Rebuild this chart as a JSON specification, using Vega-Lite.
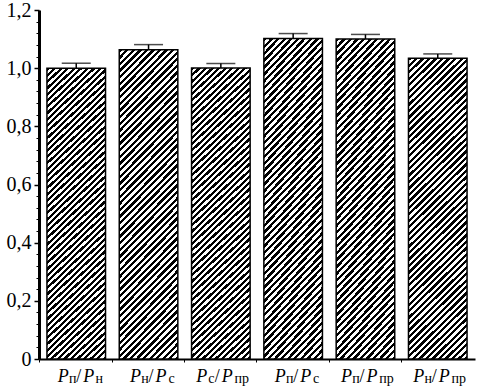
{
  "$schema": "https://vega.github.io/schema/vega-lite/v6.json",
  "width": 436,
  "height": 349,
  "autosize": "none",
  "padding": {"left": 39, "top": 10, "right": 10, "bottom": 33},
  "background": "white",
  "config": {"view": {"stroke": null}, "font": "Liberation Serif"},
  "data": {"values": [
    {"label": "Pп/Pн", "s1": "п", "s2": "н", "value": 1.0, "upper": 1.017},
    {"label": "Pн/Pс", "s1": "н", "s2": "с", "value": 1.063, "upper": 1.081},
    {"label": "Pс/Pпр", "s1": "с", "s2": "пр", "value": 1.001, "upper": 1.016},
    {"label": "Pп/Pс", "s1": "п", "s2": "с", "value": 1.102, "upper": 1.119},
    {"label": "Pп/Pпр", "s1": "п", "s2": "пр", "value": 1.1, "upper": 1.116},
    {"label": "Pн/Pпр", "s1": "н", "s2": "пр", "value": 1.034, "upper": 1.049}
  ]},
  "encoding": {
    "x": {
      "field": "label", "type": "nominal", "sort": null,
      "scale": {"paddingInner": 0.19, "paddingOuter": 0.11},
      "axis": {"labels": false, "title": null, "domainWidth": 2, "domainColor": "black", "ticks": true, "tickSize": 3, "tickColor": "black", "bandPosition": -0.12}
    }
  },
  "resolve": {"axis": {"y": "independent"}},
  "layer": [
    {
      "mark": {
        "type": "bar", "stroke": "black", "strokeWidth": 1.5,
        "fill": {"gradient": "linear", "x1": 0, "y1": 0, "x2": 0.221, "y2": 1.15, "stops": [
          {"offset":0,"color":"#000"},{"offset":0.009,"color":"#000"},{"offset":0.009,"color":"#fff"},{"offset":0.018,"color":"#fff"},
          {"offset":0.018,"color":"#000"},{"offset":0.027,"color":"#000"},{"offset":0.027,"color":"#fff"},{"offset":0.036,"color":"#fff"},
          {"offset":0.036,"color":"#000"},{"offset":0.045,"color":"#000"},{"offset":0.045,"color":"#fff"},{"offset":0.054,"color":"#fff"},
          {"offset":0.054,"color":"#000"},{"offset":0.063,"color":"#000"},{"offset":0.063,"color":"#fff"},{"offset":0.072,"color":"#fff"},
          {"offset":0.072,"color":"#000"},{"offset":0.081,"color":"#000"},{"offset":0.081,"color":"#fff"},{"offset":0.09,"color":"#fff"},
          {"offset":0.09,"color":"#000"},{"offset":0.099,"color":"#000"},{"offset":0.099,"color":"#fff"},{"offset":0.108,"color":"#fff"},
          {"offset":0.108,"color":"#000"},{"offset":0.117,"color":"#000"},{"offset":0.117,"color":"#fff"},{"offset":0.126,"color":"#fff"},
          {"offset":0.126,"color":"#000"},{"offset":0.135,"color":"#000"},{"offset":0.135,"color":"#fff"},{"offset":0.144,"color":"#fff"},
          {"offset":0.144,"color":"#000"},{"offset":0.153,"color":"#000"},{"offset":0.153,"color":"#fff"},{"offset":0.162,"color":"#fff"},
          {"offset":0.162,"color":"#000"},{"offset":0.171,"color":"#000"},{"offset":0.171,"color":"#fff"},{"offset":0.18,"color":"#fff"},
          {"offset":0.18,"color":"#000"},{"offset":0.189,"color":"#000"},{"offset":0.189,"color":"#fff"},{"offset":0.198,"color":"#fff"},
          {"offset":0.198,"color":"#000"},{"offset":0.207,"color":"#000"},{"offset":0.207,"color":"#fff"},{"offset":0.216,"color":"#fff"},
          {"offset":0.216,"color":"#000"},{"offset":0.225,"color":"#000"},{"offset":0.225,"color":"#fff"},{"offset":0.234,"color":"#fff"},
          {"offset":0.234,"color":"#000"},{"offset":0.243,"color":"#000"},{"offset":0.243,"color":"#fff"},{"offset":0.252,"color":"#fff"},
          {"offset":0.252,"color":"#000"},{"offset":0.261,"color":"#000"},{"offset":0.261,"color":"#fff"},{"offset":0.27,"color":"#fff"},
          {"offset":0.27,"color":"#000"},{"offset":0.279,"color":"#000"},{"offset":0.279,"color":"#fff"},{"offset":0.288,"color":"#fff"},
          {"offset":0.288,"color":"#000"},{"offset":0.297,"color":"#000"},{"offset":0.297,"color":"#fff"},{"offset":0.306,"color":"#fff"},
          {"offset":0.306,"color":"#000"},{"offset":0.315,"color":"#000"},{"offset":0.315,"color":"#fff"},{"offset":0.324,"color":"#fff"},
          {"offset":0.324,"color":"#000"},{"offset":0.333,"color":"#000"},{"offset":0.333,"color":"#fff"},{"offset":0.342,"color":"#fff"},
          {"offset":0.342,"color":"#000"},{"offset":0.351,"color":"#000"},{"offset":0.351,"color":"#fff"},{"offset":0.36,"color":"#fff"},
          {"offset":0.36,"color":"#000"},{"offset":0.369,"color":"#000"},{"offset":0.369,"color":"#fff"},{"offset":0.378,"color":"#fff"},
          {"offset":0.378,"color":"#000"},{"offset":0.387,"color":"#000"},{"offset":0.387,"color":"#fff"},{"offset":0.396,"color":"#fff"},
          {"offset":0.396,"color":"#000"},{"offset":0.405,"color":"#000"},{"offset":0.405,"color":"#fff"},{"offset":0.414,"color":"#fff"},
          {"offset":0.414,"color":"#000"},{"offset":0.423,"color":"#000"},{"offset":0.423,"color":"#fff"},{"offset":0.432,"color":"#fff"},
          {"offset":0.432,"color":"#000"},{"offset":0.441,"color":"#000"},{"offset":0.441,"color":"#fff"},{"offset":0.45,"color":"#fff"},
          {"offset":0.45,"color":"#000"},{"offset":0.459,"color":"#000"},{"offset":0.459,"color":"#fff"},{"offset":0.468,"color":"#fff"},
          {"offset":0.468,"color":"#000"},{"offset":0.477,"color":"#000"},{"offset":0.477,"color":"#fff"},{"offset":0.486,"color":"#fff"},
          {"offset":0.486,"color":"#000"},{"offset":0.495,"color":"#000"},{"offset":0.495,"color":"#fff"},{"offset":0.504,"color":"#fff"},
          {"offset":0.504,"color":"#000"},{"offset":0.513,"color":"#000"},{"offset":0.513,"color":"#fff"},{"offset":0.522,"color":"#fff"},
          {"offset":0.522,"color":"#000"},{"offset":0.531,"color":"#000"},{"offset":0.531,"color":"#fff"},{"offset":0.54,"color":"#fff"},
          {"offset":0.54,"color":"#000"},{"offset":0.549,"color":"#000"},{"offset":0.549,"color":"#fff"},{"offset":0.558,"color":"#fff"},
          {"offset":0.558,"color":"#000"},{"offset":0.567,"color":"#000"},{"offset":0.567,"color":"#fff"},{"offset":0.576,"color":"#fff"},
          {"offset":0.576,"color":"#000"},{"offset":0.585,"color":"#000"},{"offset":0.585,"color":"#fff"},{"offset":0.594,"color":"#fff"},
          {"offset":0.594,"color":"#000"},{"offset":0.603,"color":"#000"},{"offset":0.603,"color":"#fff"},{"offset":0.612,"color":"#fff"},
          {"offset":0.612,"color":"#000"},{"offset":0.621,"color":"#000"},{"offset":0.621,"color":"#fff"},{"offset":0.63,"color":"#fff"},
          {"offset":0.63,"color":"#000"},{"offset":0.639,"color":"#000"},{"offset":0.639,"color":"#fff"},{"offset":0.648,"color":"#fff"},
          {"offset":0.648,"color":"#000"},{"offset":0.657,"color":"#000"},{"offset":0.657,"color":"#fff"},{"offset":0.666,"color":"#fff"},
          {"offset":0.666,"color":"#000"},{"offset":0.675,"color":"#000"},{"offset":0.675,"color":"#fff"},{"offset":0.684,"color":"#fff"},
          {"offset":0.684,"color":"#000"},{"offset":0.693,"color":"#000"},{"offset":0.693,"color":"#fff"},{"offset":0.702,"color":"#fff"},
          {"offset":0.702,"color":"#000"},{"offset":0.711,"color":"#000"},{"offset":0.711,"color":"#fff"},{"offset":0.72,"color":"#fff"},
          {"offset":0.72,"color":"#000"},{"offset":0.729,"color":"#000"},{"offset":0.729,"color":"#fff"},{"offset":0.738,"color":"#fff"},
          {"offset":0.738,"color":"#000"},{"offset":0.747,"color":"#000"},{"offset":0.747,"color":"#fff"},{"offset":0.756,"color":"#fff"},
          {"offset":0.756,"color":"#000"},{"offset":0.765,"color":"#000"},{"offset":0.765,"color":"#fff"},{"offset":0.774,"color":"#fff"},
          {"offset":0.774,"color":"#000"},{"offset":0.783,"color":"#000"},{"offset":0.783,"color":"#fff"},{"offset":0.792,"color":"#fff"},
          {"offset":0.792,"color":"#000"},{"offset":0.801,"color":"#000"},{"offset":0.801,"color":"#fff"},{"offset":0.81,"color":"#fff"},
          {"offset":0.81,"color":"#000"},{"offset":0.819,"color":"#000"},{"offset":0.819,"color":"#fff"},{"offset":0.828,"color":"#fff"},
          {"offset":0.828,"color":"#000"},{"offset":0.837,"color":"#000"},{"offset":0.837,"color":"#fff"},{"offset":0.846,"color":"#fff"},
          {"offset":0.846,"color":"#000"},{"offset":0.855,"color":"#000"},{"offset":0.855,"color":"#fff"},{"offset":0.864,"color":"#fff"},
          {"offset":0.864,"color":"#000"},{"offset":0.873,"color":"#000"},{"offset":0.873,"color":"#fff"},{"offset":0.882,"color":"#fff"},
          {"offset":0.882,"color":"#000"},{"offset":0.891,"color":"#000"},{"offset":0.891,"color":"#fff"},{"offset":0.9,"color":"#fff"},
          {"offset":0.9,"color":"#000"},{"offset":0.909,"color":"#000"},{"offset":0.909,"color":"#fff"},{"offset":0.918,"color":"#fff"},
          {"offset":0.918,"color":"#000"},{"offset":0.927,"color":"#000"},{"offset":0.927,"color":"#fff"},{"offset":0.936,"color":"#fff"},
          {"offset":0.936,"color":"#000"},{"offset":0.945,"color":"#000"},{"offset":0.945,"color":"#fff"},{"offset":0.954,"color":"#fff"},
          {"offset":0.954,"color":"#000"},{"offset":0.963,"color":"#000"},{"offset":0.963,"color":"#fff"},{"offset":0.972,"color":"#fff"},
          {"offset":0.972,"color":"#000"},{"offset":0.981,"color":"#000"},{"offset":0.981,"color":"#fff"},{"offset":0.99,"color":"#fff"},
          {"offset":0.99,"color":"#000"},{"offset":0.999,"color":"#000"},{"offset":0.999,"color":"#fff"},{"offset":1,"color":"#fff"}
        ]}
      },
      "encoding": {
        "y": {
          "field": "value", "type": "quantitative",
          "scale": {"domain": [0, 1.2], "nice": false},
          "axis": {
            "orient": "left", "values": [0, 0.2, 0.4, 0.6, 0.8, 1, 1.2], "grid": false, "title": null,
            "domainWidth": 3, "domainColor": "black", "tickColor": "black", "tickWidth": 1.5, "tickSize": 5,
            "labelFont": "Liberation Serif", "labelFontSize": 20, "labelColor": "black", "labelPadding": 3,
            "labelExpr": "datum.value == 0 ? '0' : replace(format(datum.value, '.1f'), '.', ',')"
          }
        }
      }
    },
    {
      "mark": {"type": "rule", "color": "black", "strokeWidth": 1.5},
      "encoding": {
        "y": {
          "field": "value", "type": "quantitative",
          "axis": {
            "orient": "left", "values": [0.04,0.08,0.12,0.16,0.24,0.28,0.32,0.36,0.44,0.48,0.52,0.56,0.64,0.68,0.72,0.76,0.84,0.88,0.92,0.96,1.04,1.08,1.12,1.16],
            "labels": false, "domain": false, "grid": false, "title": null, "tickSize": 3, "tickWidth": 1, "tickColor": "black"
          }
        },
        "y2": {"field": "upper"}
      }
    },
    {
      "mark": {"type": "tick", "color": "black", "thickness": 1.5, "size": 29},
      "encoding": {"y": {"field": "upper", "type": "quantitative", "axis": null}}
    },
    {
      "transform": [{"filter": "datum.s2 != 'пр'"}],
      "layer": [
        {"mark": {"type": "text", "text": "P", "font": "Liberation Serif", "fontStyle": "italic", "fontSize": 18, "align": "center", "baseline": "alphabetic", "dx": -13, "dy": 23, "color": "black"},
         "encoding": {"y": {"datum": 0, "type": "quantitative", "axis": null}}},
        {"mark": {"type": "text", "font": "Liberation Serif", "fontSize": 14, "align": "center", "baseline": "alphabetic", "dx": -3.5, "dy": 24, "color": "black"},
         "encoding": {"y": {"datum": 0, "type": "quantitative", "axis": null}, "text": {"field": "s1"}}},
        {"mark": {"type": "text", "text": "/", "font": "Liberation Serif", "fontSize": 18, "align": "center", "baseline": "alphabetic", "dx": 2.5, "dy": 23, "color": "black"},
         "encoding": {"y": {"datum": 0, "type": "quantitative", "axis": null}}},
        {"mark": {"type": "text", "text": "P", "font": "Liberation Serif", "fontStyle": "italic", "fontSize": 18, "align": "center", "baseline": "alphabetic", "dx": 12.5, "dy": 23, "color": "black"},
         "encoding": {"y": {"datum": 0, "type": "quantitative", "axis": null}}},
        {"mark": {"type": "text", "font": "Liberation Serif", "fontSize": 14, "align": "center", "baseline": "alphabetic", "dx": 23, "dy": 24, "color": "black"},
         "encoding": {"y": {"datum": 0, "type": "quantitative", "axis": null}, "text": {"field": "s2"}}}
      ]
    },
    {
      "transform": [{"filter": "datum.s2 == 'пр'"}],
      "layer": [
        {"mark": {"type": "text", "text": "P", "font": "Liberation Serif", "fontStyle": "italic", "fontSize": 18, "align": "center", "baseline": "alphabetic", "dx": -19, "dy": 23, "color": "black"},
         "encoding": {"y": {"datum": 0, "type": "quantitative", "axis": null}}},
        {"mark": {"type": "text", "font": "Liberation Serif", "fontSize": 14, "align": "center", "baseline": "alphabetic", "dx": -9.5, "dy": 24, "color": "black"},
         "encoding": {"y": {"datum": 0, "type": "quantitative", "axis": null}, "text": {"field": "s1"}}},
        {"mark": {"type": "text", "text": "/", "font": "Liberation Serif", "fontSize": 18, "align": "center", "baseline": "alphabetic", "dx": -3.5, "dy": 23, "color": "black"},
         "encoding": {"y": {"datum": 0, "type": "quantitative", "axis": null}}},
        {"mark": {"type": "text", "text": "P", "font": "Liberation Serif", "fontStyle": "italic", "fontSize": 18, "align": "center", "baseline": "alphabetic", "dx": 6.5, "dy": 23, "color": "black"},
         "encoding": {"y": {"datum": 0, "type": "quantitative", "axis": null}}},
        {"mark": {"type": "text", "font": "Liberation Serif", "fontSize": 14, "align": "center", "baseline": "alphabetic", "dx": 21, "dy": 24, "color": "black"},
         "encoding": {"y": {"datum": 0, "type": "quantitative", "axis": null}, "text": {"field": "s2"}}}
      ]
    }
  ]
}
